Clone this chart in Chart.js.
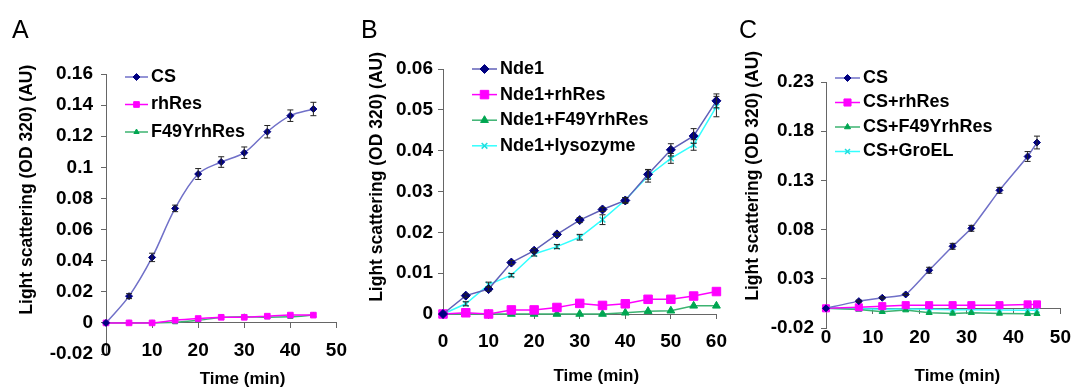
<!DOCTYPE html>
<html>
<head>
<meta charset="utf-8">
<script src="https://cdn.jsdelivr.net/npm/chart.js@4/dist/chart.umd.min.js"></script>
<style>
  body { margin: 0; background: #fff; }
  #wrap { position: relative; width: 1084px; height: 390px; background: #fff; overflow: hidden; }
  .panel { position: absolute; top: 0; height: 390px; }
  .tag { position: absolute; top: 17px; font: 25px "Liberation Sans", Arial, sans-serif; line-height: 25px; color: #000; }
</style>
</head>
<body>
<div id="wrap">
  <div class="panel" style="left:0;width:358px"><canvas id="chartA"></canvas></div>
  <div class="panel" style="left:358px;width:380px"><canvas id="chartB"></canvas></div>
  <div class="panel" style="left:722px;width:362px"><canvas id="chartC"></canvas></div>
  <div class="tag" style="left:12px">A</div>
  <div class="tag" style="left:361px">B</div>
  <div class="tag" style="left:739px">C</div>
</div>
<script>
// panel A
const timeA = [0, 5, 10, 15, 20, 25, 30, 35, 40, 45];
const csA = [0, 0.0172, 0.0421, 0.0736, 0.0957, 0.1034, 0.1094, 0.1229, 0.1332, 0.1375];
const csAErr = [0, 0.0016, 0.0027, 0.0021, 0.0035, 0.0034, 0.0037, 0.004, 0.0037, 0.0043];
const rhResA = [0, 0, 0, 0.0017, 0.0028, 0.0036, 0.0036, 0.0043, 0.005, 0.005];
const f49A = [0, 0, 0, 0.0004, 0.0017, 0.0034, 0.0039, 0.0036, 0.0039, 0.005];
const yTicksA = [-0.02, 0, 0.02, 0.04, 0.06, 0.08, 0.1, 0.12, 0.14, 0.16];
const xTicksA = [0, 10, 20, 30, 40, 50];

// panel B
const timeB = [0, 5, 10, 15, 20, 25, 30, 35, 40, 45, 50, 55, 60];
const nde1B = [0, 0.0045, 0.0061, 0.0126, 0.0155, 0.0195, 0.023, 0.0256, 0.0278, 0.0342, 0.0402, 0.0436, 0.0522];
const nde1BErr = [0, 0.0004, 0.0005, 0.0005, 0.0005, 0.0005, 0.0006, 0.0005, 0.0007, 0.0012, 0.0015, 0.0018, 0.0017];
const rhResB = [0, 0.0003, 0, 0.001, 0.001, 0.0016, 0.0026, 0.0021, 0.0025, 0.0036, 0.0036, 0.0044, 0.0055];
const f49B = [0, 0, 0, 0, 0, 0, 0, 0, 0.0003, 0.0007, 0.0008, 0.002, 0.002];
const lysoB = [0, 0.0025, 0.0072, 0.0095, 0.0147, 0.0165, 0.0188, 0.0231, 0.0279, 0.0338, 0.0381, 0.0414, 0.0508];
const lysoBErr = [0, 0.0005, 0.0006, 0.0004, 0.0005, 0.0005, 0.0007, 0.0012, 0.0006, 0.0015, 0.0012, 0.0013, 0.0025];
const yTicksB = [0, 0.01, 0.02, 0.03, 0.04, 0.05, 0.06];
const xTicksB = [0, 10, 20, 30, 40, 50, 60];

// panel C
const timeC = [0, 7, 12, 17, 22, 27, 31, 37, 43, 45];
const csC = [0, 0.0073, 0.0107, 0.0141, 0.0387, 0.063, 0.0813, 0.1199, 0.1543, 0.1685];
const csCErr = [0, 0.001, 0.001, 0.001, 0.003, 0.003, 0.003, 0.003, 0.005, 0.0065];
const rhResC = [0, 0.001, 0.0022, 0.0032, 0.0032, 0.0032, 0.0032, 0.0032, 0.004, 0.004];
const f49C = [0, -0.0011, -0.0035, -0.0018, -0.0045, -0.0052, -0.0045, -0.0052, -0.0055, -0.0055];
const groelC = [0, -0.0005, -0.001, -0.0008, -0.001, -0.0015, -0.0015, -0.0018, -0.002, -0.002];
const yTicksC = [-0.02, 0.03, 0.08, 0.13, 0.18, 0.23];
const xTicksC = [0, 10, 20, 30, 40, 50];

const yTitle = "Light scattering (OD 320) (AU)";
const xTitle = "Time (min)";

Chart.defaults.font.family = '"Liberation Sans", Arial, sans-serif';
Chart.defaults.font.size = 19;
Chart.defaults.font.weight = "bold";
Chart.defaults.color = "#000";

const NAVY = "#000080", NAVY_LINE = "#7070c8", PINK = "#ff00ff", GREEN = "#00a651", GREEN_LINE = "#3cb371", CYAN = "#33ffff";
const NBSP = "\u00a0";

function pts(xs, ys) {
  return xs.map((x, i) => ({ x: x, y: ys[i] }));
}

function series(label, xs, ys, style, r, line, fill, tension, errs) {
  return {
    label: label,
    data: pts(xs, ys),
    errors: errs,
    borderColor: line,
    borderWidth: 1.5,
    pointStyle: style,
    pointRadius: r,
    pointBackgroundColor: fill,
    pointBorderColor: fill,
    pointBorderWidth: style === "crossRot" ? 1.5 : 1,
    tension: tension,
    clip: false
  };
}

// vertical error bars drawn from each dataset's errors array
const errorBars = {
  id: "errorBars",
  afterDatasetsDraw(chart) {
    const ctx = chart.ctx, ys = chart.scales.y;
    chart.data.datasets.forEach((ds, i) => {
      if (!ds.errors) return;
      chart.getDatasetMeta(i).data.forEach((pt, j) => {
        const e = ds.errors[j];
        if (!e) return;
        const top = ys.getPixelForValue(ds.data[j].y + e);
        const bot = ys.getPixelForValue(ds.data[j].y - e);
        ctx.save();
        ctx.strokeStyle = "#222";
        ctx.lineWidth = 1;
        ctx.beginPath();
        ctx.moveTo(pt.x, top); ctx.lineTo(pt.x, bot);
        ctx.moveTo(pt.x - 3, top); ctx.lineTo(pt.x + 3, top);
        ctx.moveTo(pt.x - 3, bot); ctx.lineTo(pt.x + 3, bot);
        ctx.stroke();
        ctx.restore();
      });
    });
  }
};

// Excel-style legend: short line with the marker in the middle
const sideLegend = {
  id: "sideLegend",
  afterDraw(chart, args, opts) {
    const ctx = chart.ctx;
    ctx.save();
    ctx.font = 'bold 18px "Liberation Sans", Arial, sans-serif';
    ctx.textBaseline = "middle";
    chart.data.datasets.forEach((ds, i) => {
      const y = opts.y + i * opts.rowH;
      ctx.strokeStyle = ds.borderColor;
      ctx.lineWidth = 1.5;
      ctx.beginPath();
      ctx.moveTo(opts.x, y);
      ctx.lineTo(opts.x + opts.len, y);
      ctx.stroke();
      ctx.fillStyle = ds.pointBackgroundColor;
      ctx.strokeStyle = ds.pointBorderColor;
      ctx.lineWidth = ds.pointBorderWidth;
      Chart.helpers.drawPoint(ctx, { pointStyle: ds.pointStyle, radius: ds.pointRadius, borderWidth: ds.pointBorderWidth, rotation: 0 }, opts.x + opts.len / 2, y);
      ctx.fillStyle = "#000";
      ctx.fillText(ds.label, opts.x + opts.len + 3, y);
    });
    ctx.restore();
  }
};

function makeOptions(p) {
  const setTicks = (list) => (s) => { s.ticks = list.map((v) => ({ value: v })); };
  const xMin = p.xTicks[0], xMax = p.xTicks[p.xTicks.length - 1];
  const scales = {
    x: {
      type: "linear",
      min: xMin,
      max: xMax,
      afterBuildTicks: setTicks(p.xTicks),
      afterFit: (s) => { s.height = p.xHeight; },
      ticks: { display: !p.zeroAxis, padding: p.xPad, maxRotation: 0, callback: (v) => String(v) },
      grid: p.zeroAxis ? { display: false } : { drawOnChartArea: false, tickLength: 5, color: "#666" },
      border: { display: !p.zeroAxis, color: "#666" },
      title: { display: true, text: NBSP.repeat(p.xShift) + xTitle, font: { size: 17 }, padding: { top: 0, bottom: p.xTitlePad } }
    },
    y: {
      min: p.yTicks[0],
      max: p.yTicks[p.yTicks.length - 1],
      afterBuildTicks: setTicks(p.yTicks),
      afterFit: (s) => { s.width = p.yWidth; },
      ticks: { padding: p.yPad, callback: (v) => String(v) },
      grid: { drawOnChartArea: false, tickLength: 5, color: "#666" },
      border: { color: "#666" },
      title: { display: true, text: NBSP.repeat(p.yShift) + yTitle, font: { size: 17.5 }, padding: 4 }
    }
  };
  if (p.zeroAxis) {
    // axis line crossing at y = 0, tick labels hang below it
    scales.x0 = {
      type: "linear",
      position: { y: 0 },
      min: xMin,
      max: xMax,
      afterBuildTicks: setTicks(p.xTicks),
      ticks: { padding: p.xPad, maxRotation: 0, callback: (v) => String(v) },
      grid: { drawOnChartArea: false, tickLength: 5, color: "#666" },
      border: { color: "#666" }
    };
  }
  return {
    responsive: true,
    maintainAspectRatio: false,
    animation: false,
    layout: { padding: p.pad },
    scales: scales,
    plugins: {
      legend: { display: false },
      tooltip: { enabled: false },
      sideLegend: p.legend
    }
  };
}

new Chart(document.getElementById("chartA"), {
  type: "line",
  data: {
    datasets: [
      series("CS", timeA, csA, "rectRot", 3.5, NAVY_LINE, NAVY, 0.35, csAErr),
      series("rhRes", timeA, rhResA, "rect", 4, PINK, PINK, 0.3),
      series("F49YrhRes", timeA, f49A, "triangle", 3, GREEN_LINE, GREEN, 0.3)
    ]
  },
  options: makeOptions({
    xTicks: xTicksA, yTicks: yTicksA, zeroAxis: true,
    pad: { left: 13, right: 16, top: 74, bottom: 0 },
    yWidth: 93, xHeight: 36, xPad: 11, yPad: 8, xTitlePad: 0, xShift: 9, yShift: 10,
    legend: { x: 125, y: 77, rowH: 27.5, len: 23 }
  }),
  plugins: [errorBars, sideLegend]
});

new Chart(document.getElementById("chartB"), {
  type: "line",
  data: {
    datasets: [
      series("Nde1", timeB, nde1B, "rectRot", 4.5, "#6060b8", NAVY, 0, nde1BErr),
      series("Nde1+rhRes", timeB, rhResB, "rect", 6, PINK, PINK, 0),
      series("Nde1+F49YrhRes", timeB, f49B, "triangle", 4.5, GREEN_LINE, GREEN, 0),
      series("Nde1+lysozyme", timeB, lysoB, "crossRot", 4, CYAN, "#22dddd", 0, lysoBErr)
    ]
  },
  options: makeOptions({
    xTicks: xTicksB, yTicks: yTicksB, zeroAxis: false,
    pad: { left: 5, right: 18, top: 69, bottom: 0 },
    yWidth: 80, xHeight: 76, xPad: 11, yPad: 5, xTitlePad: 3, xShift: 7, yShift: 6,
    legend: { x: 114, y: 69, rowH: 25.6, len: 25 }
  }),
  plugins: [errorBars, sideLegend]
});

new Chart(document.getElementById("chartC"), {
  type: "line",
  data: {
    datasets: [
      series("CS", timeC, csC, "rectRot", 3.5, NAVY_LINE, NAVY, 0.15, csCErr),
      series("CS+rhRes", timeC, rhResC, "rect", 5, PINK, PINK, 0),
      series("CS+F49YrhRes", timeC, f49C, "triangle", 3.5, GREEN_LINE, GREEN, 0),
      series("CS+GroEL", timeC, groelC, "crossRot", 3.5, CYAN, "#22dddd", 0)
    ]
  },
  options: makeOptions({
    xTicks: xTicksC, yTicks: yTicksC, zeroAxis: true,
    pad: { left: 17, right: 11, top: 82, bottom: 0 },
    yWidth: 87, xHeight: 62, xPad: 13, yPad: 7, xTitlePad: 3, xShift: 6, yShift: 12,
    legend: { x: 113, y: 78, rowH: 24.5, len: 25 }
  }),
  plugins: [errorBars, sideLegend]
});
</script>
</body>
</html>
